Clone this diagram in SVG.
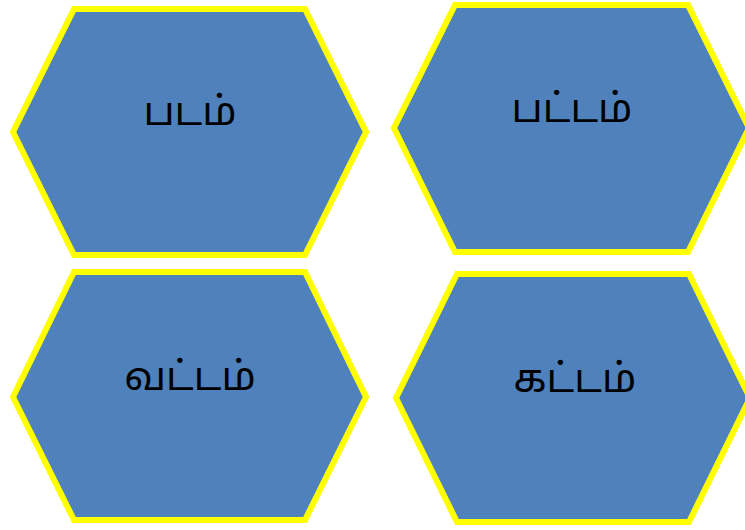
<svg xmlns="http://www.w3.org/2000/svg" width="745" height="530" viewBox="0 0 745 530">
<style>
.hex{fill:#4F81BD;stroke:#FFFF00;stroke-width:6;stroke-linejoin:miter}
.lbl{font-family:"Noto Sans Tamil","Noto Sans","Lohit Tamil",sans-serif;font-size:40px;fill:#000;text-anchor:middle}
</style>
<rect width="745" height="530" fill="#fff"/>
<g id="node1"><polygon class="hex" points="74,9 305,9 366,132 305,255 74,255 13,132"/><text class="lbl" x="190" y="125">படம்</text></g>
<g id="node2"><polygon class="hex" points="455,5 688,5 749,128 688,252 455,252 394,128"/><text class="lbl" x="572" y="122">பட்டம்</text></g>
<g id="node3"><polygon class="hex" points="74,272 305,272 366,397 305,520 74,520 13,397"/><text class="lbl" x="190" y="390">வட்டம்</text></g>
<g id="node4"><polygon class="hex" points="457,274 689,274 750,398 689,522 457,522 396,398"/><text class="lbl" x="575" y="392">கட்டம்</text></g>
<g id="connectors"/>
</svg>
